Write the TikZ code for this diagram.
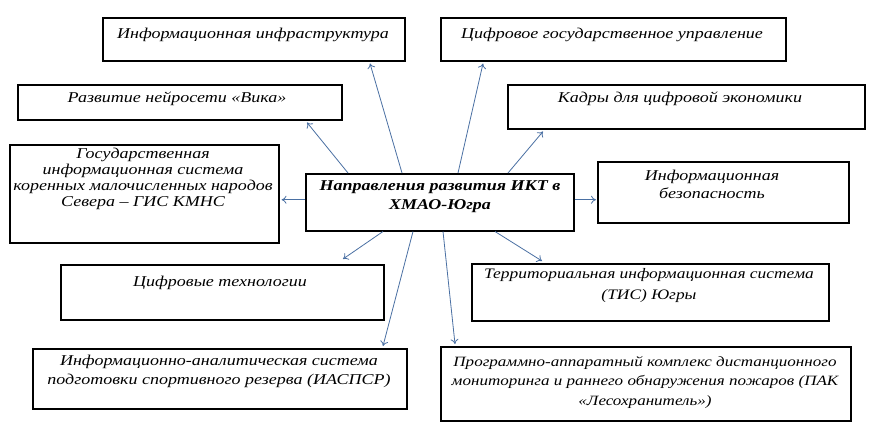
\documentclass[tikz,border=0pt]{standalone}
\usepackage{fontspec}
\setmainfont{Liberation Serif}[FakeStretch=1.2]
\usetikzlibrary{arrows.meta}
\definecolor{arrc}{RGB}{74,112,163}
\begin{document}
\begin{tikzpicture}[x=1pt,y=-1pt,
  box/.style={draw=black, line width=1.5pt, fill=white, inner sep=0pt, anchor=north west},
  txt/.style={font=\fontsize{15}{17.5}\selectfont\itshape, align=center, inner sep=0pt, anchor=north},
  ctxt/.style={font=\fontsize{15}{19}\selectfont\bfseries\itshape, align=center, inner sep=0pt, anchor=north},
  arr/.style={draw=arrc, line width=0.8pt, -{To[length=5pt,width=8pt]}}]
\useasboundingbox[fill=white] (0,0) rectangle (869,431);

% boxes
\node[box, minimum width=302pt, minimum height=43pt] (b1) at (102,17) {};
\node[box, minimum width=345pt, minimum height=43pt] (b2) at (440,17) {};
\node[box, minimum width=324pt, minimum height=35pt] (b3) at (17,84) {};
\node[box, minimum width=357pt, minimum height=44pt] (b4) at (507,84) {};
\node[box, minimum width=269pt, minimum height=98pt] (b6) at (9,144) {};
\node[box, minimum width=268pt, minimum height=57pt] (c) at (305,173) {};
\node[box, minimum width=251pt, minimum height=61pt] (b5) at (597,161) {};
\node[box, minimum width=323pt, minimum height=55pt] (b7) at (60,264) {};
\node[box, minimum width=357pt, minimum height=57pt] (b8) at (471,263) {};
\node[box, minimum width=374pt, minimum height=60pt] (b9) at (32,348) {};
\node[box, minimum width=410pt, minimum height=74pt] (b10) at (440,346) {};

% texts
\node[txt] (t1) at (253,28) {Информационная инфраструктура};
\node[txt] (t2) at (612,28) {Цифровое государственное управление};
\node[txt] (t3) at (177,92) {Развитие нейросети «Вика»};
\node[txt] (t4) at (680,92) {Кадры для цифровой экономики};
\node[txt, font=\fontsize{15}{16}\selectfont\itshape] (t6) at (143,148) {Государственная\\информационная система\\коренных малочисленных народов\\Севера – ГИС КМНС};
\node[ctxt] (tc) at (440,180) {Направления развития ИКТ в\\ХМАО-Югра};
\node[txt] (t5) at (712,170) {Информационная\\безопасность};
\node[txt] (t7) at (220,276) {Цифровые технологии};
\node[txt, font=\fontsize{14.5}{21}\selectfont\itshape] (t8) at (649,268) {Территориальная информационная система\\(ТИС) Югры};
\node[txt, font=\fontsize{15}{18.5}\selectfont\itshape] (t9) at (219,355) {Информационно-аналитическая система\\подготовки спортивного резерва (ИАСПСР)};
\node[txt, font=\fontsize{14.2}{19.5}\selectfont\itshape] (t10) at (645,356) {Программно-аппаратный комплекс дистанционного\\мониторинга и раннего обнаружения пожаров (ПАК\\«Лесохранитель»)};

% arrows
\draw[arr] ([xshift=97pt]c.north west) -- ([xshift=268pt,yshift=-2pt]b1.south west);
\draw[arr] ([xshift=43pt]c.north west) -- ([xshift=290pt,yshift=-2pt]b3.south west);
\draw[arr] ([xshift=153pt]c.north west) -- ([xshift=43pt,yshift=-2pt]b2.south west);
\draw[arr] ([xshift=203pt]c.north west) -- ([xshift=36pt,yshift=-2pt]b4.south west);
\draw[arr] ([yshift=2.5pt]c.east) -- ([xshift=-1pt,yshift=-7.5pt]b5.west);
\draw[arr] ([yshift=2.5pt]c.west) -- ([xshift=2pt,yshift=-6pt]b6.east);
\draw[arr] ([xshift=78pt]c.south west) -- ([xshift=283pt,yshift=5pt]b7.north west);
\draw[arr] ([xshift=108pt]c.south west) -- ([xshift=351pt,yshift=2pt]b9.north west);
\draw[arr] ([xshift=190pt]c.south west) -- ([xshift=71pt,yshift=2pt]b8.north west);
\draw[arr] ([xshift=138pt]c.south west) -- ([xshift=15pt,yshift=2pt]b10.north west);
\end{tikzpicture}
\end{document}
